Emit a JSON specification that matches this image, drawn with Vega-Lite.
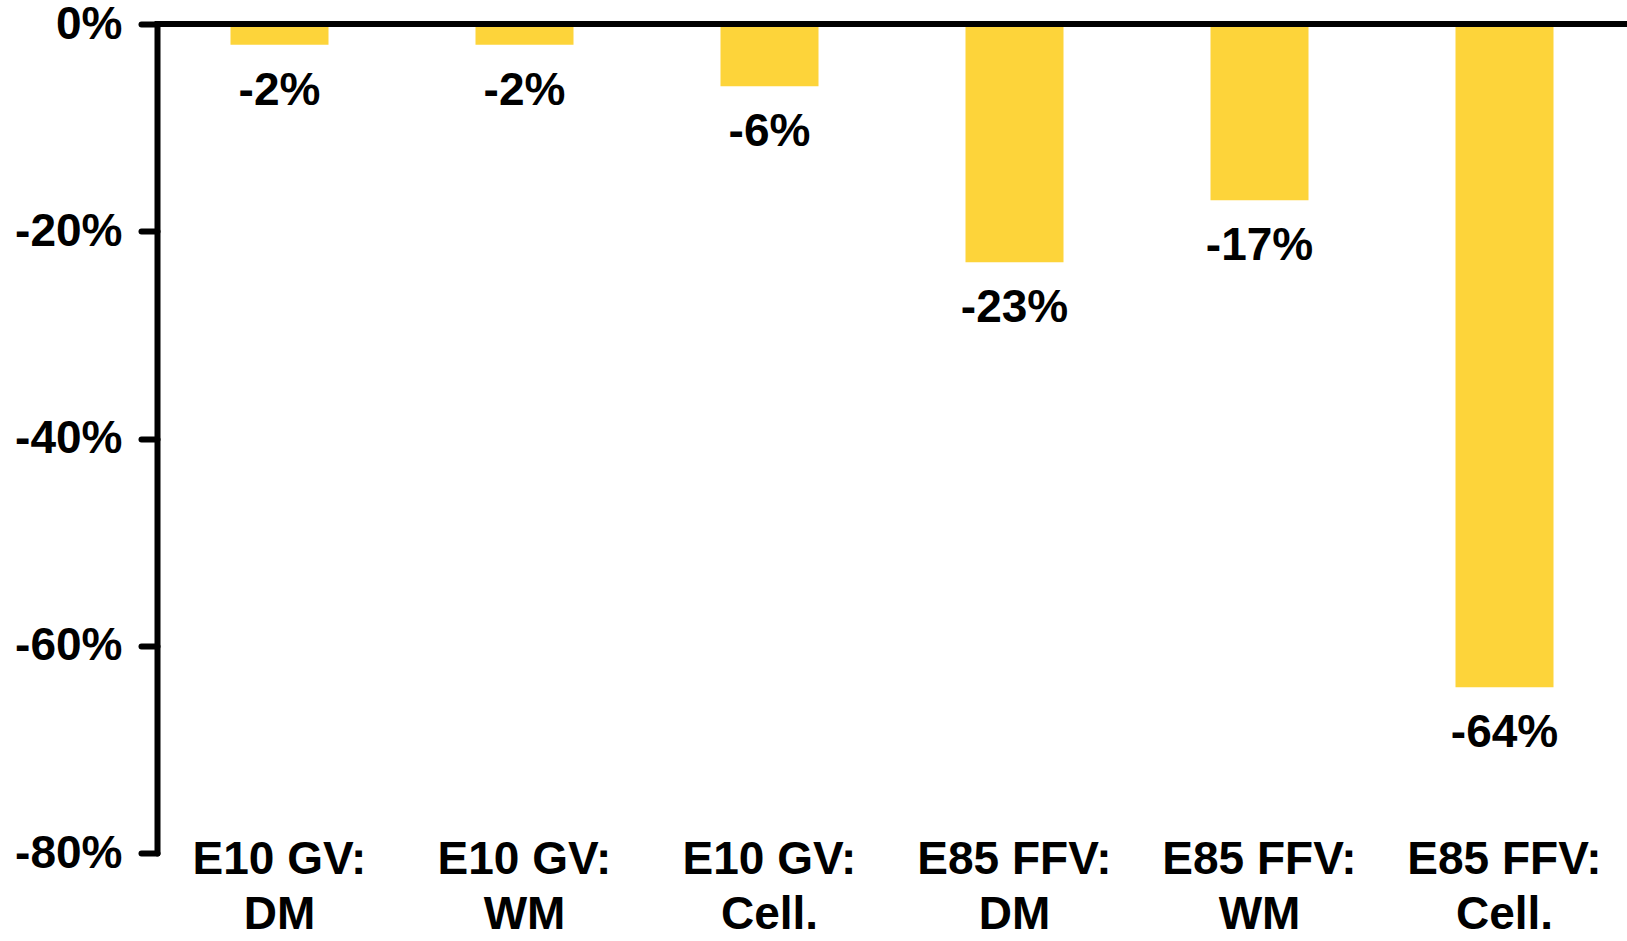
{
  "$schema": "https://vega.github.io/schema/vega-lite/v6.json",
  "autosize": "none",
  "width": 1470,
  "height": 829,
  "padding": {"left": 157, "top": 24, "right": 0, "bottom": 88},
  "background": "white",
  "config": {"view": {"stroke": null}, "font": "Liberation Sans"},
  "data": {"values": [
    {"cat": "E10 GV:\nDM", "value": -2, "label": "-2%"},
    {"cat": "E10 GV:\nWM", "value": -2, "label": "-2%"},
    {"cat": "E10 GV:\nCell.", "value": -6, "label": "-6%"},
    {"cat": "E85 FFV:\nDM", "value": -23, "label": "-23%"},
    {"cat": "E85 FFV:\nWM", "value": -17, "label": "-17%"},
    {"cat": "E85 FFV:\nCell.", "value": -64, "label": "-64%"}
  ]},
  "layer": [
    {
      "mark": {"type": "bar", "color": "#FDD43A"},
      "encoding": {
        "x": {"field": "cat", "type": "nominal", "sort": null,
          "scale": {"paddingInner": 0.6, "paddingOuter": 0.3},
          "axis": {"title": null, "orient": "bottom", "domain": false, "ticks": false, "labelAngle": 0,
            "labelExpr": "split(datum.label, '\\n')", "labelFont": "Liberation Sans", "labelFontSize": 46,
            "labelFontWeight": "bold", "labelColor": "black", "labelBaseline": "top", "labelLineHeight": 55,
            "labelPadding": -16, "labelLimit": 0}},
        "y": {"field": "value", "type": "quantitative",
          "scale": {"domain": [-80, 0], "nice": false},
          "axis": {"title": null, "values": [-80, -60, -40, -20, 0], "grid": false,
            "labelExpr": "datum.value + '%'", "labelFont": "Liberation Sans", "labelFontSize": 46,
            "labelFontWeight": "bold", "labelColor": "black", "labelPadding": 19,
            "domainColor": "black", "domainWidth": 6, "domainCap": "round",
            "tickColor": "black", "tickWidth": 6, "tickSize": 16, "tickCap": "round"}}
      }
    },
    {
      "mark": {"type": "text", "baseline": "top", "dy": 24, "font": "Liberation Sans", "fontSize": 46, "fontWeight": "bold", "color": "black"},
      "encoding": {
        "x": {"field": "cat", "type": "nominal", "sort": null},
        "y": {"field": "value", "type": "quantitative"},
        "text": {"field": "label"}
      }
    },
    {
      "mark": {"type": "rule", "color": "black", "strokeWidth": 6, "strokeCap": "round"},
      "encoding": {"y": {"datum": 0}}
    }
  ]
}
